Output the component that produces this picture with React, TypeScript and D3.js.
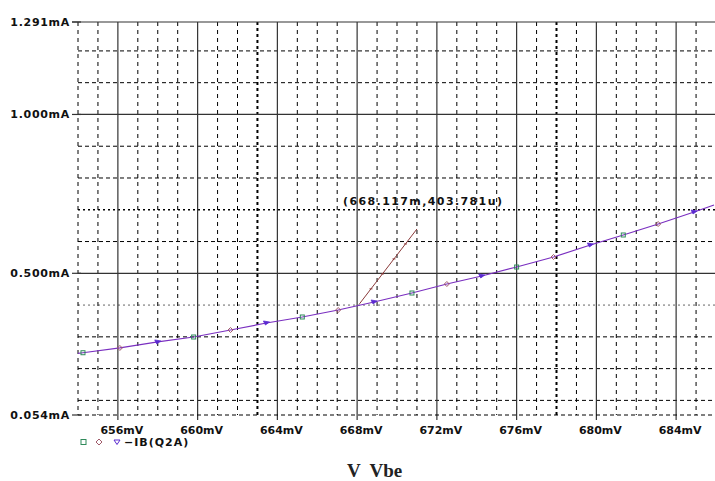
import React from 'react';
import * as d3 from 'd3';

// ---- data ----
const X_TICKS = [656, 660, 664, 668, 672, 676, 680, 684];
const X_TICK_LABELS = ['656mV', '660mV', '664mV', '668mV', '672mV', '676mV', '680mV', '684mV'];
const Y_TICKS = [1.291, 1.0, 0.5, 0.054];
const Y_TICK_LABELS = ['1.291mA', '1.000mA', '0.500mA', '0.054mA'];
const Y_MINOR = [0.1, 0.2, 0.3, 0.4, 0.6, 0.7, 0.8, 0.9, 1.1, 1.2];
const X_MINOR = [654, 655, 657, 658, 659, 661, 662, 663, 665, 666, 667, 669, 670, 671, 673, 674, 675, 677, 678, 679, 681, 682, 683, 685];

// curve -IB(Q2A): Vbe in mV, current in mA
const CURVE_V = [654.0, 654.25, 656.1, 658.0, 659.8, 661.65, 663.45, 665.25, 667.05, 668.85, 670.75, 672.5, 674.25, 676.0, 677.85, 679.7, 681.35, 683.1, 684.9, 685.9];
const CURVE_I = [0.248, 0.250, 0.265, 0.284, 0.2995, 0.3215, 0.3436, 0.3625, 0.3845, 0.4097, 0.438, 0.4663, 0.4915, 0.5198, 0.5513, 0.5891, 0.6206, 0.6552, 0.693, 0.715];
const MARKER_V = [654.25, 656.1, 658.0, 659.8, 661.65, 663.45, 665.25, 667.05, 668.85, 670.75, 672.5, 674.25, 676.0, 677.85, 679.7, 681.35, 683.1, 684.9];
const MARKER_I = [0.250, 0.265, 0.284, 0.2995, 0.3215, 0.3436, 0.3625, 0.3845, 0.4097, 0.438, 0.4663, 0.4915, 0.5198, 0.5513, 0.5891, 0.6206, 0.6552, 0.693];

// cursor slope line
const TANGENT_V = [668.117, 671.0];
const TANGENT_I = [0.4038, 0.6395];
const CURSOR_LABEL = '(668.117m,403.781u)';

const W = 715;
const H = 481;

const LINE_COLOR = '#7a2fc0';
const SQ_COLOR = '#2f8a5a';
const DIA_COLOR = '#a05a6a';
const TRI_COLOR = '#5a2ad0';
const TAN_COLOR = '#8a3a3a';

export default function App() {
  const x = d3.scaleLinear().domain([654, 686]).range([78, 716]);
  const y = d3.scaleLinear().domain([0.054, 1.291]).range([415, 22]);
  const left = x(654);
  const right = W;
  const top = y(1.291);
  const bottom = y(0.054);

  const line = d3.line<number>().x((_, i) => x(CURVE_V[i])).y((d) => y(d));
  const tan = d3.line<number>().x((_, i) => x(TANGENT_V[i])).y((d) => y(d));

  const labelFont = { fontFamily: 'DejaVu Sans', fontWeight: 'bold' as const, fontSize: 11 };

  const marker = (i: number, cx: number, cy: number) => {
    const k = i % 3;
    if (k === 0)
      return <rect key={i} x={cx - 2} y={cy - 2} width={4} height={4} fill="none" stroke={SQ_COLOR} strokeWidth={1} />;
    if (k === 1)
      return <path key={i} d={`M${cx},${cy - 2.5}L${cx + 2.5},${cy}L${cx},${cy + 2.5}L${cx - 2.5},${cy}Z`} fill="none" stroke={DIA_COLOR} strokeWidth={1} />;
    return <path key={i} d={`M${cx - 3},${cy - 2}L${cx + 3},${cy - 1}L${cx - 1},${cy + 2}Z`} fill={TRI_COLOR} stroke={TRI_COLOR} strokeWidth={0.8} />;
  };

  // small slope marks along tangent line
  const tanMarks = d3.range(1, 5).map((k) => {
    const t = k / 5;
    const vx = TANGENT_V[0] + (TANGENT_V[1] - TANGENT_V[0]) * t;
    const vy = TANGENT_I[0] + (TANGENT_I[1] - TANGENT_I[0]) * t;
    return [x(vx), y(vy)];
  });

  return (
    <svg width={W} height={H} style={{ position: 'absolute', left: 0, top: 0, background: '#fff' }}>
      <rect x={0} y={0} width={W} height={H} fill="#fff" />
      {/* minor horizontal grid */}
      {Y_MINOR.map((v) => (
        <line key={'hy' + v} x1={left} x2={right} y1={y(v)} y2={y(v)} stroke="#000"
          strokeWidth={v === 0.7 ? 1.6 : 1} strokeDasharray={v === 0.7 ? '2,3' : v === 0.4 ? '2,3' : '4,3'}
          opacity={v === 0.4 ? 0.6 : 1} />
      ))}
      {/* minor vertical grid */}
      {X_MINOR.map((v) => (
        <line key={'vx' + v} x1={x(v)} x2={x(v)} y1={top} y2={bottom} stroke="#000"
          strokeWidth={v === 663 || v === 678 ? 2 : 1} strokeDasharray={v === 663 || v === 678 ? '3,3' : '4,4'} />
      ))}
      {/* major vertical grid */}
      {X_TICKS.map((v) => (
        <line key={'mx' + v} x1={x(v)} x2={x(v)} y1={top} y2={bottom + 5} stroke="#333" strokeWidth={1.2} />
      ))}
      {/* major horizontal grid */}
      {[1.0, 0.5].map((v) => (
        <line key={'my' + v} x1={left} x2={right} y1={y(v)} y2={y(v)} stroke="#333" strokeWidth={1.2} />
      ))}
      {/* top border and bottom border */}
      <line x1={left - 6} x2={right} y1={top} y2={top} stroke="#333" strokeWidth={1.2} />
      <line x1={left} x2={right} y1={bottom} y2={bottom} stroke="#000" strokeWidth={1} strokeDasharray="4,3" />
      {/* y ticks */}
      {Y_TICKS.map((v, i) => (
        <g key={'yt' + v}>
          <line x1={left - 6} x2={left + 3} y1={y(v)} y2={y(v)} stroke="#333" strokeWidth={1.2} />
          <text x={left - 8} y={y(v) + 4} textAnchor="end" {...labelFont} letterSpacing={0.7} fill="#111">
            {Y_TICK_LABELS[i]}
          </text>
        </g>
      ))}
      {/* x tick labels */}
      {X_TICKS.map((v, i) => (
        <text key={'xt' + v} x={x(v) + 4} y={bottom + 19} textAnchor="middle" {...labelFont} fill="#111">
          {X_TICK_LABELS[i]}
        </text>
      ))}
      {/* curve */}
      <path d={line(CURVE_I) || ''} fill="none" stroke={LINE_COLOR} strokeWidth={1.2} />
      {MARKER_V.map((v, i) => marker(i, x(v), y(MARKER_I[i])))}
      {/* cursor slope line */}
      <path d={tan(TANGENT_I) || ''} fill="none" stroke={TAN_COLOR} strokeWidth={1} />
      {tanMarks.map(([mx, my], i) => (
        <line key={'tm' + i} x1={mx - 1.5} x2={mx + 1.5} y1={my} y2={my} stroke={TAN_COLOR} strokeWidth={1} />
      ))}
      <text x={343} y={205} {...labelFont} letterSpacing={1.4} fill="#111">{CURSOR_LABEL}</text>
      {/* legend */}
      <rect x={81} y={439.5} width={5} height={5} fill="none" stroke={SQ_COLOR} strokeWidth={1} />
      <path d="M99,439L102,442L99,445L96,442Z" fill="none" stroke={DIA_COLOR} strokeWidth={1} />
      <path d="M114,440L120,440L117,444.5Z" fill="none" stroke={TRI_COLOR} strokeWidth={1} />
      <text x={124} y={446} {...labelFont} letterSpacing={1} fill="#111">−IB(Q2A)</text>
      {/* x axis title */}
      <text x={347} y={477} fontFamily="Liberation Serif" fontWeight="bold" fontSize={19} fill="#222" xmlSpace="preserve">V  Vbe</text>
    </svg>
  );
}
